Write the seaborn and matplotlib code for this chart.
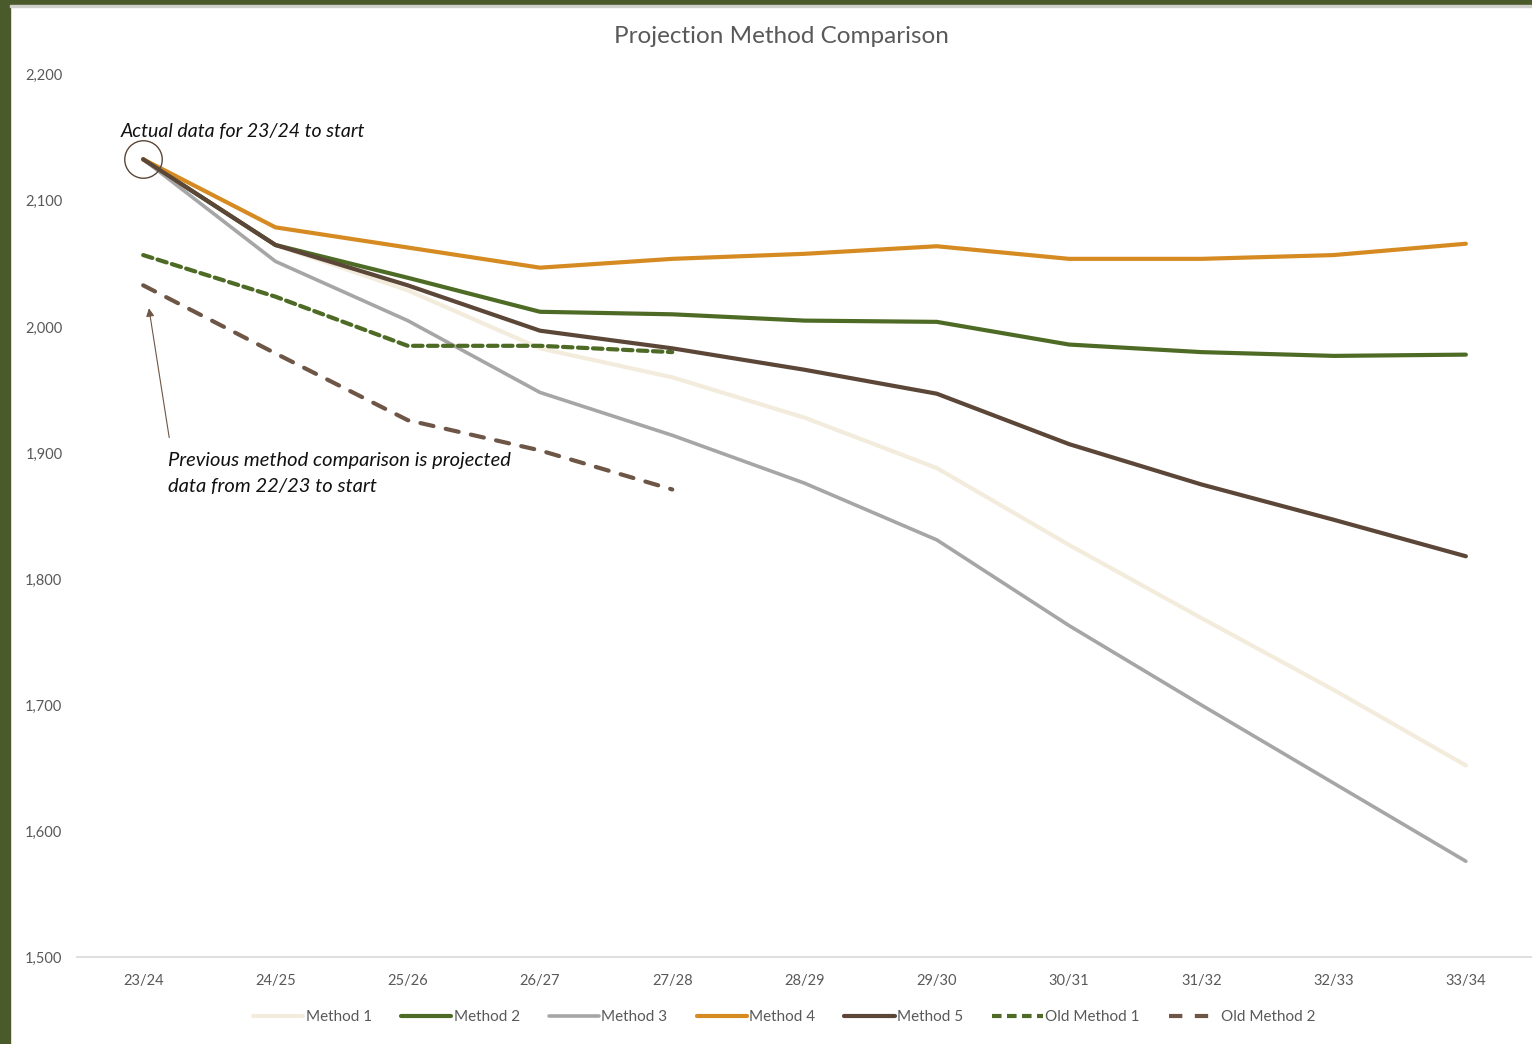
import matplotlib
matplotlib.use('Agg')

import numpy as np
import pandas as pd
import seaborn as sns
import matplotlib.pyplot as plt
from matplotlib.patches import Rectangle
from matplotlib.lines import Line2D
from matplotlib.ticker import FuncFormatter

# Data
years = ['23/24', '24/25', '25/26', '26/27', '27/28', '28/29', '29/30', '30/31', '31/32', '32/33', '33/34']
method_1 = [2133, 2065, 2029, 1983, 1960, 1928, 1888, 1827, 1769, 1712, 1652]
method_2 = [2133, 2065, 2039, 2012, 2010, 2005, 2004, 1986, 1980, 1977, 1978]
method_3 = [2133, 2052, 2005, 1948, 1914, 1876, 1831, 1763, 1700, 1638, 1576]
method_4 = [2133, 2079, 2063, 2047, 2054, 2058, 2064, 2054, 2054, 2057, 2066]
method_5 = [2133, 2065, 2033, 1997, 1983, 1966, 1947, 1907, 1875, 1847, 1818]
old_years = years[:5]
old_method_1 = [2057, 2024, 1985, 1985, 1980]
old_method_2 = [2033, 1979, 1926, 1902, 1871]

series = [
    ('Method 1', years, method_1, '#f3ecdd', 3.0, None),
    ('Method 2', years, method_2, '#4e6b26', 3.0, None),
    ('Method 3', years, method_3, '#a6a6a6', 2.6, None),
    ('Method 4', years, method_4, '#d68b22', 3.0, None),
    ('Method 5', years, method_5, '#5b4637', 3.0, None),
    ('Old Method 1', old_years, old_method_1, '#4e6b26', 3.0, (2.3, 1.3)),
    ('Old Method 2', old_years, old_method_2, '#6e5646', 3.0, (3.2, 3.0)),
]

sns.set_style('white')
plt.rcParams['font.family'] = ['Lato', 'DejaVu Sans']

fig = plt.figure(figsize=(15.32, 10.44), dpi=100)
ax = fig.add_axes([0.0503, 0.0833, 0.9497, 0.845])

handles = []
for name, xs, ys, color, lw, dash in series:
    df = pd.DataFrame({'year': xs, 'value': ys})
    sns.lineplot(data=df, x='year', y='value', ax=ax, color=color, linewidth=lw, legend=False)
    ln = ax.lines[-1]
    ln.set_solid_capstyle('round')
    if dash is not None:
        ln.set_dashes(dash)
        ln.set_dash_capstyle('round')
    handles.append(Line2D([], [], color=color, linewidth=lw,
                          linestyle=(0, dash) if dash is not None else '-'))

# Circle around the first actual value
ax.plot(years[0], method_5[0], marker='o', markersize=27, markerfacecolor='none',
        markeredgecolor='#5b4637', markeredgewidth=1.0)

ax.set_xlim(-0.5, len(years) - 0.5)
ax.set_ylim(1500, 2200)
ax.set_yticks(np.arange(1500, 2201, 100))
ax.yaxis.set_major_formatter(FuncFormatter(lambda v, p: f'{int(v):,}'))
ax.set_xlabel('')
ax.set_ylabel('')
ax.tick_params(axis='y', length=0, pad=10.5, labelsize=10.5, labelcolor='#595959')
ax.tick_params(axis='x', length=0, pad=12, labelsize=10.5, labelcolor='#595959')
for s in ['top', 'right', 'left']:
    ax.spines[s].set_visible(False)
ax.spines['bottom'].set_color('#d9d9d9')
ax.spines['bottom'].set_linewidth(1.2)
ax.grid(False)

# Annotations
ax.text(-0.17, 2155, 'Actual data for 23/24 to start', fontsize=14, style='italic',
        color='#111111', va='center', ha='left')
ax.annotate('', xy=(0.04, 2017), xytext=(0.2, 1910),
            arrowprops=dict(arrowstyle='-|>', color='#6e5646', lw=0.8, mutation_scale=12))
ax.text(0.19, 1901, 'Previous method comparison is projected\ndata from 22/23 to start',
        fontsize=14.5, style='italic', color='#111111', va='top', ha='left', linespacing=1.65)

fig.text(0.510, 0.9646, 'Projection Method Comparison', ha='center', va='center',
         fontsize=17.5, color='#595959')

fig.legend(handles, [s[0] for s in series], loc='center', bbox_to_anchor=(0.512, 0.026),
           ncol=7, frameon=False, handlelength=3.3, handletextpad=0.15, columnspacing=1.9,
           fontsize=11, labelcolor='#595959')

# Slide border
fig.patches.append(Rectangle((0, 1 - 5 / 1044), 1, 5 / 1044, transform=fig.transFigure,
                             color='#4b5a2a', zorder=10))
fig.patches.append(Rectangle((0, 0), 10 / 1532, 1, transform=fig.transFigure,
                             color='#4b5a2a', zorder=10))
fig.patches.append(Rectangle((10 / 1532, 1 - 7 / 1044), 1, 2 / 1044, transform=fig.transFigure,
                             color='#d0d0cc', zorder=10))

fig.savefig('out.png', dpi=100)
plt.close()
